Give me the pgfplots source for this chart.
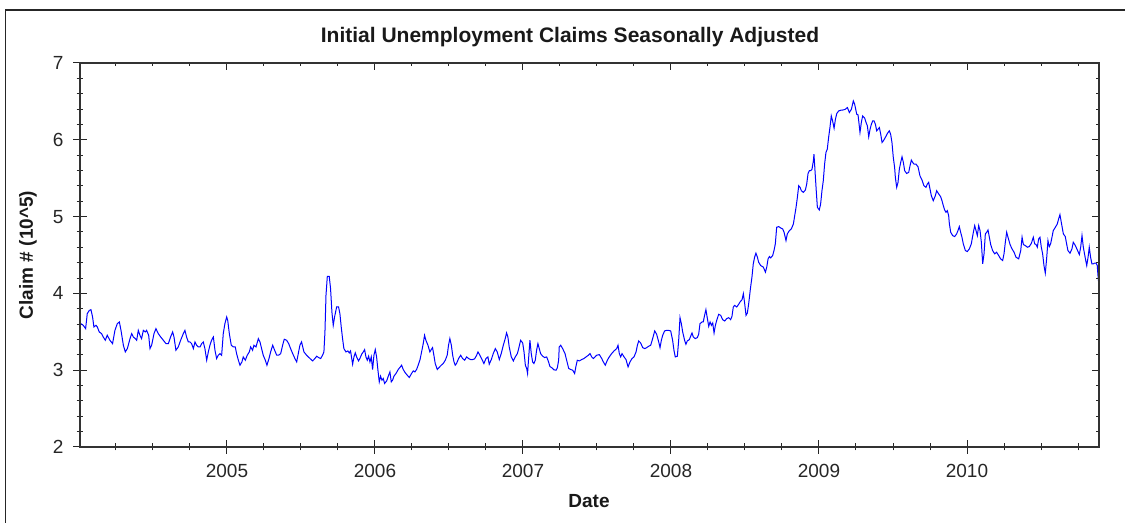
\documentclass[border=0pt]{standalone}
\usepackage{fontspec}
\setmainfont{Liberation Sans}
\usepackage{pgfplots}
\pgfplotsset{compat=1.18}
\usepackage{pgfplotstable}
\pgfplotstableread{
x y
2004.014 3.606
2004.029 3.584
2004.045 3.541
2004.056 3.736
2004.070 3.779
2004.081 3.788
2004.092 3.693
2004.101 3.563
2004.115 3.584
2004.124 3.563
2004.137 3.498
2004.153 3.476
2004.164 3.433
2004.178 3.390
2004.191 3.455
2004.209 3.390
2004.227 3.346
2004.243 3.519
2004.259 3.606
2004.273 3.628
2004.284 3.519
2004.300 3.325
2004.313 3.238
2004.327 3.281
2004.345 3.411
2004.356 3.476
2004.367 3.433
2004.381 3.411
2004.390 3.390
2004.401 3.519
2004.412 3.455
2004.423 3.411
2004.435 3.519
2004.448 3.498
2004.457 3.519
2004.471 3.455
2004.480 3.281
2004.491 3.325
2004.507 3.476
2004.520 3.541
2004.536 3.476
2004.552 3.433
2004.570 3.390
2004.588 3.346
2004.604 3.346
2004.619 3.433
2004.633 3.498
2004.642 3.433
2004.655 3.260
2004.671 3.303
2004.687 3.390
2004.705 3.476
2004.716 3.519
2004.727 3.433
2004.739 3.368
2004.750 3.368
2004.761 3.346
2004.773 3.281
2004.784 3.368
2004.795 3.325
2004.806 3.303
2004.818 3.303
2004.829 3.346
2004.840 3.368
2004.851 3.281
2004.863 3.130
2004.874 3.238
2004.885 3.325
2004.896 3.390
2004.908 3.433
2004.919 3.260
2004.930 3.152
2004.941 3.195
2004.953 3.216
2004.964 3.195
2004.975 3.476
2004.986 3.606
2004.998 3.693
2005.005 3.649
2005.016 3.476
2005.029 3.325
2005.043 3.303
2005.056 3.303
2005.065 3.216
2005.077 3.130
2005.088 3.065
2005.101 3.108
2005.110 3.173
2005.124 3.130
2005.137 3.195
2005.151 3.238
2005.160 3.303
2005.173 3.260
2005.182 3.325
2005.196 3.303
2005.212 3.411
2005.223 3.368
2005.234 3.281
2005.245 3.195
2005.259 3.130
2005.270 3.065
2005.284 3.152
2005.295 3.238
2005.309 3.325
2005.322 3.260
2005.336 3.195
2005.349 3.195
2005.363 3.216
2005.376 3.325
2005.387 3.403
2005.403 3.390
2005.417 3.346
2005.430 3.281
2005.444 3.216
2005.459 3.152
2005.471 3.108
2005.484 3.238
2005.493 3.325
2005.504 3.368
2005.520 3.238
2005.538 3.195
2005.561 3.152
2005.579 3.121
2005.594 3.152
2005.606 3.182
2005.619 3.165
2005.633 3.152
2005.646 3.195
2005.655 3.238
2005.662 3.498
2005.669 3.974
2005.678 4.221
2005.691 4.221
2005.700 4.061
2005.709 3.758
2005.718 3.584
2005.727 3.693
2005.741 3.823
2005.754 3.823
2005.763 3.736
2005.772 3.563
2005.781 3.411
2005.790 3.281
2005.804 3.238
2005.817 3.251
2005.826 3.225
2005.835 3.251
2005.849 3.078
2005.858 3.173
2005.867 3.225
2005.876 3.173
2005.889 3.121
2005.898 3.152
2005.910 3.208
2005.921 3.238
2005.930 3.268
2005.939 3.173
2005.948 3.130
2005.957 3.182
2005.966 3.108
2005.975 3.173
2005.984 3.009
2005.993 3.195
2006.002 3.268
2006.011 3.173
2006.020 3.000
2006.029 2.848
2006.038 2.922
2006.047 2.870
2006.056 2.892
2006.065 2.827
2006.079 2.861
2006.090 2.922
2006.101 2.978
2006.110 2.848
2006.119 2.870
2006.128 2.922
2006.142 2.957
2006.157 3.009
2006.169 3.037
2006.180 3.065
2006.191 3.009
2006.205 2.965
2006.218 2.935
2006.232 2.905
2006.247 2.957
2006.259 2.991
2006.270 2.978
2006.281 3.009
2006.292 3.065
2006.304 3.134
2006.315 3.238
2006.326 3.346
2006.335 3.455
2006.344 3.390
2006.358 3.325
2006.371 3.238
2006.380 3.268
2006.389 3.294
2006.398 3.195
2006.407 3.087
2006.421 3.009
2006.434 3.037
2006.448 3.065
2006.461 3.087
2006.475 3.130
2006.488 3.195
2006.497 3.325
2006.506 3.411
2006.516 3.325
2006.525 3.195
2006.534 3.108
2006.542 3.065
2006.551 3.087
2006.565 3.152
2006.579 3.195
2006.592 3.152
2006.606 3.130
2006.619 3.173
2006.633 3.152
2006.646 3.139
2006.660 3.139
2006.673 3.147
2006.687 3.195
2006.696 3.238
2006.709 3.195
2006.723 3.139
2006.736 3.087
2006.750 3.152
2006.763 3.173
2006.772 3.078
2006.786 3.139
2006.799 3.216
2006.813 3.281
2006.826 3.238
2006.840 3.139
2006.853 3.216
2006.867 3.325
2006.880 3.411
2006.889 3.485
2006.898 3.433
2006.907 3.303
2006.921 3.173
2006.935 3.121
2006.948 3.173
2006.962 3.216
2006.971 3.281
2006.984 3.390
2006.998 3.355
2007.007 3.238
2007.016 3.065
2007.025 3.022
2007.031 2.957
2007.038 3.152
2007.047 3.390
2007.056 3.216
2007.065 3.108
2007.074 3.087
2007.083 3.130
2007.092 3.260
2007.101 3.346
2007.110 3.281
2007.119 3.216
2007.133 3.182
2007.146 3.165
2007.160 3.173
2007.173 3.108
2007.182 3.048
2007.196 3.030
2007.209 3.005
2007.223 3.000
2007.232 3.030
2007.241 3.130
2007.245 3.303
2007.255 3.325
2007.268 3.281
2007.284 3.216
2007.295 3.130
2007.309 3.022
2007.322 3.009
2007.336 3.000
2007.349 2.957
2007.358 3.052
2007.367 3.130
2007.381 3.121
2007.397 3.139
2007.412 3.152
2007.426 3.173
2007.442 3.195
2007.453 3.216
2007.464 3.173
2007.475 3.152
2007.487 3.173
2007.498 3.195
2007.516 3.203
2007.532 3.152
2007.543 3.108
2007.556 3.065
2007.570 3.130
2007.583 3.173
2007.599 3.216
2007.615 3.251
2007.633 3.281
2007.642 3.325
2007.651 3.216
2007.660 3.173
2007.669 3.216
2007.683 3.173
2007.696 3.139
2007.710 3.043
2007.723 3.108
2007.737 3.152
2007.750 3.173
2007.764 3.238
2007.773 3.325
2007.782 3.381
2007.795 3.355
2007.809 3.294
2007.822 3.281
2007.836 3.294
2007.849 3.312
2007.863 3.325
2007.876 3.411
2007.890 3.511
2007.903 3.468
2007.917 3.368
2007.926 3.294
2007.935 3.390
2007.944 3.455
2007.957 3.511
2007.971 3.519
2007.984 3.519
2007.998 3.511
2008.011 3.390
2008.020 3.260
2008.029 3.173
2008.043 3.182
2008.052 3.390
2008.061 3.684
2008.070 3.606
2008.079 3.498
2008.092 3.390
2008.101 3.338
2008.110 3.381
2008.124 3.398
2008.133 3.442
2008.142 3.485
2008.151 3.433
2008.164 3.411
2008.178 3.424
2008.187 3.468
2008.196 3.606
2008.210 3.628
2008.218 3.628
2008.227 3.714
2008.236 3.788
2008.246 3.671
2008.255 3.571
2008.264 3.628
2008.273 3.584
2008.282 3.615
2008.291 3.485
2008.300 3.584
2008.309 3.649
2008.322 3.727
2008.336 3.714
2008.349 3.658
2008.363 3.641
2008.376 3.671
2008.390 3.684
2008.403 3.658
2008.412 3.701
2008.421 3.823
2008.430 3.844
2008.444 3.823
2008.457 3.857
2008.466 3.887
2008.480 3.918
2008.489 3.996
2008.498 3.866
2008.507 3.714
2008.516 3.745
2008.525 3.866
2008.534 4.017
2008.538 4.082
2008.547 4.212
2008.556 4.385
2008.565 4.471
2008.574 4.523
2008.584 4.471
2008.592 4.407
2008.606 4.363
2008.624 4.342
2008.638 4.277
2008.647 4.342
2008.656 4.450
2008.665 4.480
2008.674 4.463
2008.687 4.493
2008.696 4.558
2008.705 4.645
2008.714 4.861
2008.728 4.870
2008.741 4.852
2008.755 4.839
2008.764 4.796
2008.777 4.688
2008.786 4.775
2008.800 4.818
2008.813 4.839
2008.827 4.904
2008.836 5.013
2008.845 5.121
2008.854 5.251
2008.863 5.402
2008.872 5.381
2008.881 5.337
2008.894 5.316
2008.908 5.346
2008.917 5.424
2008.926 5.562
2008.935 5.597
2008.944 5.597
2008.953 5.619
2008.962 5.727
2008.966 5.813
2008.971 5.662
2008.980 5.381
2008.989 5.121
2009.002 5.086
2009.011 5.164
2009.020 5.337
2009.029 5.467
2009.038 5.684
2009.047 5.835
2009.056 5.878
2009.065 6.030
2009.074 6.160
2009.083 6.311
2009.092 6.246
2009.102 6.151
2009.111 6.268
2009.120 6.342
2009.133 6.376
2009.147 6.385
2009.165 6.389
2009.178 6.398
2009.192 6.420
2009.205 6.355
2009.219 6.398
2009.232 6.506
2009.241 6.463
2009.255 6.333
2009.264 6.324
2009.277 6.095
2009.286 6.225
2009.295 6.311
2009.309 6.281
2009.318 6.225
2009.327 6.181
2009.336 6.039
2009.345 6.138
2009.354 6.203
2009.363 6.246
2009.372 6.246
2009.381 6.203
2009.390 6.117
2009.399 6.138
2009.408 6.160
2009.417 6.073
2009.426 5.965
2009.435 5.987
2009.448 6.030
2009.462 6.082
2009.475 6.117
2009.484 6.073
2009.493 5.965
2009.502 5.770
2009.511 5.640
2009.516 5.510
2009.525 5.381
2009.534 5.446
2009.543 5.619
2009.552 5.705
2009.561 5.779
2009.570 5.705
2009.579 5.597
2009.592 5.562
2009.606 5.575
2009.615 5.662
2009.624 5.736
2009.633 5.705
2009.642 5.684
2009.655 5.684
2009.669 5.649
2009.682 5.532
2009.696 5.476
2009.709 5.402
2009.723 5.381
2009.732 5.424
2009.741 5.446
2009.750 5.359
2009.759 5.272
2009.772 5.207
2009.786 5.272
2009.795 5.337
2009.809 5.294
2009.822 5.259
2009.831 5.207
2009.840 5.142
2009.849 5.086
2009.858 5.056
2009.867 5.078
2009.876 5.013
2009.881 4.904
2009.890 4.796
2009.903 4.753
2009.917 4.740
2009.930 4.775
2009.939 4.818
2009.948 4.870
2009.957 4.796
2009.966 4.731
2009.975 4.645
2009.989 4.558
2010.002 4.545
2010.016 4.580
2010.029 4.645
2010.043 4.796
2010.052 4.883
2010.061 4.818
2010.070 4.753
2010.079 4.883
2010.088 4.818
2010.097 4.666
2010.106 4.385
2010.115 4.515
2010.124 4.775
2010.133 4.796
2010.142 4.826
2010.151 4.731
2010.160 4.636
2010.173 4.558
2010.187 4.515
2010.200 4.536
2010.214 4.493
2010.227 4.450
2010.241 4.428
2010.250 4.515
2010.259 4.666
2010.268 4.796
2010.277 4.731
2010.291 4.636
2010.304 4.580
2010.318 4.536
2010.331 4.471
2010.349 4.450
2010.363 4.558
2010.372 4.731
2010.381 4.636
2010.394 4.623
2010.408 4.601
2010.421 4.610
2010.435 4.653
2010.448 4.731
2010.457 4.645
2010.466 4.636
2010.475 4.601
2010.484 4.710
2010.493 4.731
2010.502 4.601
2010.511 4.515
2010.520 4.363
2010.529 4.264
2010.538 4.450
2010.547 4.688
2010.556 4.610
2010.565 4.645
2010.574 4.731
2010.583 4.818
2010.597 4.861
2010.610 4.904
2010.619 4.969
2010.628 5.026
2010.637 4.926
2010.651 4.775
2010.664 4.740
2010.673 4.645
2010.682 4.558
2010.696 4.523
2010.709 4.580
2010.718 4.666
2010.732 4.623
2010.745 4.567
2010.759 4.506
2010.768 4.601
2010.777 4.753
2010.786 4.601
2010.800 4.450
2010.809 4.363
2010.818 4.471
2010.826 4.601
2010.835 4.471
2010.844 4.385
2010.853 4.385
2010.862 4.394
2010.872 4.394
2010.880 4.363
2010.885 4.233
2010.889 4.147
}\claims

\pgfplotsset{
  common/.style={
    at={(80bp,76bp)}, anchor=south west,
    scale only axis, width=1019bp, height=384bp,
    xmin=2004.007, xmax=2010.892, ymin=2, ymax=7,
    xtick={2005,2006,2007,2008,2009,2010},
    ytick={2,3,4,5,6,7},
    minor xtick={2004.25,2004.5,2004.75,2005.25,2005.5,2005.75,2006.25,2006.5,2006.75,2007.25,2007.5,2007.75,2008.25,2008.5,2008.75,2009.25,2009.5,2009.75,2010.25,2010.5,2010.75},
    minor ytick={2.2,2.4,2.6,2.8,3.2,3.4,3.6,3.8,4.2,4.4,4.6,4.8,5.2,5.4,5.6,5.8,6.2,6.4,6.6,6.8},
    axis line style={line width=1.3bp, black!80},
    tick style={line width=1bp, black!85},
    clip=false,
  }
}

\begin{document}
\begin{tikzpicture}
\useasboundingbox (0,0) rectangle (1125bp,523bp);
\draw[line width=1.2bp, black!85] (5.5bp,-2bp) -- (5.5bp,513bp) -- (1127bp,513bp);
\begin{axis}[common,
  xtick pos=left, ytick pos=left,
  tick align=center,
  major tick length=14bp, minor tick length=7bp,
  xticklabels={2005,2006,2007,2008,2009,2010},
  yticklabels={2,3,4,5,6,7},
  tick label style={font=\fontsize{19bp}{22bp}\selectfont, text=black!85},
  xticklabel style={yshift=-7bp},
  yticklabel style={xshift=-6bp},
  clip mode=individual,
]
\addplot[color={rgb,255:red,0;green,0;blue,255}, line width=1bp, no markers] table[x=x,y=y] {\claims};
\end{axis}
\begin{axis}[common,
  xtick pos=right, ytick pos=right,
  tick align=inside,
  major tick length=7bp, minor tick length=3.5bp,
  xticklabels={}, yticklabels={},
]
\end{axis}
\node[font=\fontsize{21bp}{24bp}\selectfont\bfseries, text=black!90] at (570bp,486bp) {Initial Unemployment Claims Seasonally Adjusted};
\node[font=\fontsize{19bp}{22bp}\selectfont\bfseries, text=black!90] at (589bp,22bp) {Date};
\node[font=\fontsize{19bp}{22bp}\selectfont\bfseries, text=black!90, rotate=90] at (28bp,268bp) {Claim \# (10\^{}5)};
\end{tikzpicture}
\end{document}
